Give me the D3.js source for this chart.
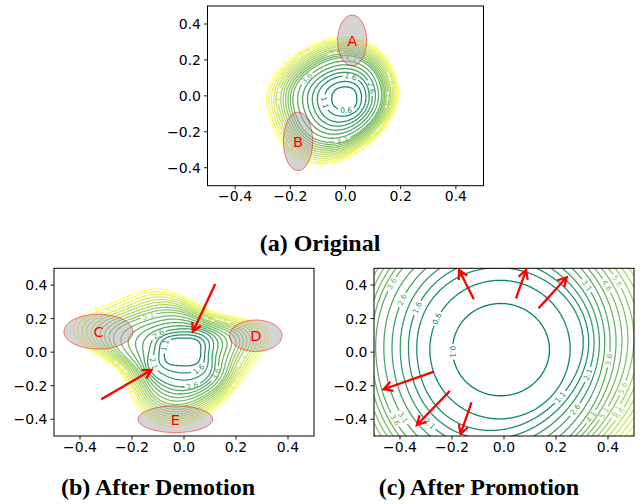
<!DOCTYPE html>
<html>
<head>
<meta charset="utf-8">
<script src="https://cdn.jsdelivr.net/npm/d3@7"></script>
<style>
  body { margin: 0; background: #fff; }
  svg { display: block; }
</style>
</head>
<body>
<svg id="fig" width="642" height="504"></svg>
<script>
// ---- shared contour levels and axis ticks ----
const levels = [0.1, 0.6, 1.1, 1.6, 2.1, 2.6, 3.1, 3.6, 4.1, 4.6, 5.1, 5.6, 6.1, 6.6, 7.1, 7.6, 8.1, 8.6, 9.1, 9.6];
const tickValues = [-0.4, -0.2, 0.0, 0.2, 0.4];
const tickLabels = ["\u22120.4", "\u22120.2", "0.0", "0.2", "0.4"];

// ---- (a) Original: radius of a few contour levels around the minimum, every 30 degrees ----
const origCenter = [0.0, -0.01];
const origMin = 0.3;
const origAnchorLevels = [0.6, 1.6, 4.1, 9.6];
const origR06 = [0.041, 0.046, 0.055, 0.061, 0.058, 0.053, 0.050, 0.056, 0.066, 0.073, 0.062, 0.048];
const origR16 = [0.074, 0.083, 0.102, 0.123, 0.111, 0.105, 0.102, 0.111, 0.135, 0.131, 0.101, 0.081];
const origR41 = [0.130, 0.147, 0.184, 0.231, 0.203, 0.195, 0.191, 0.205, 0.254, 0.230, 0.169, 0.138];
const origR96 = [0.190, 0.215, 0.270, 0.345, 0.300, 0.290, 0.285, 0.305, 0.380, 0.335, 0.240, 0.198];
const origLabels = [[0.6, 0.0, -0.079], [1.1, -0.068, -0.033], [1.6, 0.02, 0.11], [2.6, 0.08, 0.04],
  [3.6, -0.14, 0.1], [4.1, 0.022, 0.237], [4.1, -0.014, -0.237], [7.1, -0.245, 0.0], [9.6, -0.205, 0.19],
  [8.6, -0.14, 0.23], [7.6, 0.16, 0.09], [6.1, 0.15, -0.02], [8.1, 0.12, -0.2], [9.1, 0.05, -0.3],
  [8.6, -0.2, -0.27], [5.6, -0.04, 0.27]];
const origRegions = [["A", 0.024, 0.308, 0.0525, 0.142], ["B", -0.172, -0.253, 0.053, 0.163]];

// ---- (b) After Demotion: radii every 15 degrees ----
const demCenter = [0.0, 0.0];
const demMin = 0.8;
const demAnchorLevels = [1.1, 2.6, 5.1, 9.6];
const demR11 = [0.066, 0.068, 0.075, 0.085, 0.088, 0.087, 0.086, 0.087, 0.090, 0.092, 0.085, 0.078,
                0.076, 0.078, 0.085, 0.092, 0.088, 0.084, 0.082, 0.084, 0.085, 0.080, 0.072, 0.067];
const demR26 = [0.110, 0.118, 0.128, 0.140, 0.140, 0.140, 0.140, 0.140, 0.142, 0.145, 0.140, 0.135,
                0.135, 0.145, 0.160, 0.175, 0.190, 0.200, 0.210, 0.200, 0.175, 0.150, 0.125, 0.112];
const demR51 = [0.185, 0.215, 0.210, 0.200, 0.195, 0.200, 0.225, 0.245, 0.255, 0.270, 0.285, 0.280,
                0.245, 0.215, 0.205, 0.225, 0.265, 0.300, 0.310, 0.280, 0.240, 0.215, 0.195, 0.185];
const demR96 = [0.290, 0.350, 0.330, 0.290, 0.270, 0.275, 0.335, 0.385, 0.398, 0.410, 0.435, 0.442,
                0.350, 0.285, 0.278, 0.300, 0.365, 0.425, 0.440, 0.375, 0.320, 0.290, 0.270, 0.280];
const demLabels = [[1.1, -0.054, 0.033], [1.6, 0.049, -0.086], [2.1, -0.125, -0.07], [2.6, -0.099, 0.103],
  [2.6, 0.036, -0.21], [3.6, 0.133, -0.136], [5.1, -0.138, 0.212], [8.6, -0.28, 0.28], [9.6, -0.344, 0.25],
  [6.6, 0.09, 0.21], [7.6, 0.15, 0.2], [8.1, -0.25, -0.1], [9.1, -0.19, -0.24], [7.1, 0.25, -0.07], [8.6, 0.2, -0.2]];
const demRegions = [["C", -0.329, 0.122, 0.133, 0.104], ["D", 0.276, 0.098, 0.101, 0.094], ["E", -0.033, -0.40, 0.144, 0.080]];
const demArrows = [[0.12, 0.406, 0.034, 0.122], [-0.318, -0.281, -0.125, -0.106]];

// ---- (c) After Promotion: radii every 30 degrees ----
const promCenter = [-0.015, 0.015];
const promMin = -0.3;
const promAnchorLevels = [0.1, 0.6, 1.1, 3.6, 7.1];
const promR01 = [0.190, 0.204, 0.244, 0.275, 0.240, 0.197, 0.183, 0.197, 0.240, 0.275, 0.244, 0.204];
const promR06 = [0.270, 0.292, 0.358, 0.415, 0.358, 0.292, 0.271, 0.292, 0.358, 0.415, 0.355, 0.290];
const promR11 = [0.320, 0.350, 0.425, 0.495, 0.430, 0.350, 0.322, 0.350, 0.430, 0.495, 0.385, 0.330];
const promR36 = [0.420, 0.470, 0.590, 0.714, 0.660, 0.525, 0.475, 0.525, 0.660, 0.714, 0.575, 0.450];
const promR71 = [0.570, 0.650, 0.770, 0.886, 0.850, 0.660, 0.591, 0.660, 0.850, 0.886, 0.715, 0.600];
const promLabels = [[0.1, -0.2, 0.0], [0.6, -0.279, 0.224], [1.6, -0.356, 0.283], [2.6, -0.421, 0.333],
  [3.6, -0.466, 0.432], [4.1, -0.49, 0.472], [3.6, -0.466, -0.45], [3.1, -0.42, -0.42], [2.1, -0.28, -0.42],
  [1.1, 0.21, -0.26], [2.1, 0.325, -0.135], [2.6, 0.274, -0.34], [3.6, 0.40, -0.045], [4.1, 0.38, -0.43],
  [5.1, 0.43, -0.41], [5.6, 0.467, -0.22], [6.1, 0.44, -0.36], [6.6, 0.47, -0.39], [7.1, 0.49, -0.47],
  [3.1, 0.32, 0.40], [4.6, 0.42, 0.42], [5.6, 0.455, 0.44]];
const promArrows = [[-0.116, 0.315, -0.173, 0.49], [0.046, 0.32, 0.085, 0.49], [0.133, 0.262, 0.241, 0.447],
  [-0.269, -0.116, -0.463, -0.221], [-0.208, -0.231, -0.335, -0.434], [-0.125, -0.3, -0.167, -0.488]];

// ---------------------------------------------------------------
const svg = d3.select("#fig");
const defs = svg.append("defs");

// matplotlib "summer" colormap over the level range
const colorOf = d3.scaleLinear()
  .domain([levels[0], levels[levels.length - 1]])
  .range(["#008066", "#ffff66"])
  .interpolate(d3.interpolateRgb);

// smooth periodic radius curve: low-order Fourier series fitted to 1/r^2
// (an ellipse is exactly a constant plus a second harmonic in this form)
function radiusCurve(R, harmonics) {
  const n = R.length;
  const u = R.map(r => 1 / (r * r));
  const a = [], b = [];
  for (let m = 0; m <= harmonics; m++) {
    let sa = 0, sb = 0;
    for (let k = 0; k < n; k++) {
      const t = 2 * Math.PI * k / n;
      sa += u[k] * Math.cos(m * t);
      sb += u[k] * Math.sin(m * t);
    }
    a.push((m === 0 ? 1 : 2) * sa / n);
    b.push((m === 0 ? 0 : 2) * sb / n);
  }
  return th => {
    let v = a[0];
    for (let m = 1; m <= harmonics; m++) v += a[m] * Math.cos(m * th) + b[m] * Math.sin(m * th);
    return 1 / Math.sqrt(Math.max(v, 1e-6));
  };
}

// surface value: piecewise linear in radius between the measured level rings
function surface(center, fmin, anchorLevels, tables, harmonics) {
  const curves = tables.map(R => radiusCurve(R, harmonics));
  return (x, y) => {
    const dx = x - center[0], dy = y - center[1];
    const r = Math.hypot(dx, dy);
    const th = Math.atan2(dy, dx);
    const Rs = curves.map(c => c(th));
    const L = anchorLevels;
    if (r <= Rs[0]) return fmin + (L[0] - fmin) * (r / Rs[0]) ** 2;
    for (let k = 0; k < Rs.length - 1; k++) {
      if (r <= Rs[k + 1]) return L[k] + (L[k + 1] - L[k]) * (r - Rs[k]) / (Rs[k + 1] - Rs[k]);
    }
    const k = Rs.length - 2;
    return L[k + 1] + (L[k + 1] - L[k]) * (r - Rs[k + 1]) / (Rs[k + 1] - Rs[k]);
  };
}

const N = 280, G0 = -0.54, G1 = 0.54, STEP = (G1 - G0) / (N - 1);
const LABEL_FS = 7.5;

function drawPanel(id, box, f, labels, regions, arrows, title) {
  const xs = d3.scaleLinear().domain([-0.5, 0.5]).range([box.left, box.right]);
  const ys = d3.scaleLinear().domain([-0.5, 0.5]).range([box.bottom, box.top]);

  // sample the surface
  const values = new Float64Array(N * N);
  for (let j = 0; j < N; j++)
    for (let i = 0; i < N; i++)
      values[j * N + i] = f(G0 + i * STEP, G0 + j * STEP);

  const contours = d3.contours().size([N, N]).thresholds(levels)(values);
  const toPx = (cx, cy) => [xs(G0 + (cx - 0.5) * STEP), ys(G0 + (cy - 0.5) * STEP)];
  const proj = d3.geoTransform({ point(px, py) { const p = toPx(px, py); this.stream.point(p[0], p[1]); } });
  const path = d3.geoPath(proj);

  defs.append("clipPath").attr("id", "clip-" + id)
    .append("rect").attr("x", box.left).attr("y", box.top)
    .attr("width", box.right - box.left).attr("height", box.bottom - box.top);

  // inline label placement on contour lines
  const placed = [];
  labels.forEach(([lev, ax, ay]) => {
    const c = contours.find(c => Math.abs(c.value - lev) < 1e-6);
    if (!c) return;
    const tx = xs(ax), ty = ys(ay);
    let best = null;
    c.coordinates.forEach(poly => poly.forEach(ring => {
      const pts = ring.map(p => toPx(p[0], p[1]));
      pts.forEach((p, k) => {
        const d = Math.hypot(p[0] - tx, p[1] - ty);
        if (!best || d < best.d) best = { d, pts, k };
      });
    }));
    if (!best || best.d > 20) return;
    const { pts, k } = best;
    const n = pts.length;
    const a = pts[(k - 3 + n - 1) % (n - 1)], b = pts[(k + 3) % (n - 1)];
    let ang = Math.atan2(b[1] - a[1], b[0] - a[0]) * 180 / Math.PI;
    if (ang > 90) ang -= 180;
    if (ang < -90) ang += 180;
    const p = pts[k];
    if (p[0] < box.left + 2 || p[0] > box.right - 2 || p[1] < box.top + 2 || p[1] > box.bottom - 2) return;
    placed.push({ lev, x: p[0], y: p[1], ang, text: lev.toFixed(1) });
  });

  const g = svg.append("g").attr("clip-path", `url(#clip-${id})`);
  contours.forEach((c, ci) => {
    if (!c.coordinates.length) return;
    const mine = placed.filter(l => Math.abs(l.lev - c.value) < 1e-6);
    const p = g.append("path").attr("d", path(c))
      .attr("fill", "none").attr("stroke", colorOf(c.value))
      .attr("stroke-width", 1.3).attr("stroke-linejoin", "round");
    if (mine.length) {
      const m = defs.append("mask").attr("id", `mask-${id}-${ci}`)
        .attr("maskUnits", "userSpaceOnUse").attr("x", 0).attr("y", 0).attr("width", 642).attr("height", 504);
      m.append("rect").attr("width", 642).attr("height", 504).attr("fill", "#fff");
      mine.forEach(l => {
        const w = l.text.length * 0.53 * LABEL_FS + 4;
        m.append("rect").attr("x", -w / 2).attr("y", -LABEL_FS / 2 - 0.5).attr("width", w).attr("height", LABEL_FS + 1)
          .attr("transform", `translate(${l.x},${l.y}) rotate(${l.ang})`).attr("fill", "#000");
      });
      p.attr("mask", `url(#mask-${id}-${ci})`);
    }
  });
  g.selectAll("text.clabel").data(placed).join("text")
    .attr("class", "clabel")
    .attr("transform", d => `translate(${d.x},${d.y}) rotate(${d.ang})`)
    .attr("text-anchor", "middle").attr("dominant-baseline", "central")
    .attr("font-family", "DejaVu Sans").attr("font-size", LABEL_FS)
    .attr("fill", d => colorOf(d.lev)).text(d => d.text);

  // shaded regions
  regions.forEach(([name, cx, cy, rx, ry]) => {
    svg.append("ellipse")
      .attr("cx", xs(cx)).attr("cy", ys(cy))
      .attr("rx", xs(rx) - xs(0)).attr("ry", ys(0) - ys(ry))
      .attr("fill", "rgb(169,169,169)").attr("fill-opacity", 0.5)
      .attr("stroke", "rgb(255,0,0)").attr("stroke-opacity", 0.5).attr("stroke-width", 1);
    svg.append("text").attr("x", xs(cx)).attr("y", ys(cy) + 5.3)
      .attr("text-anchor", "middle").attr("font-family", "DejaVu Sans").attr("font-size", 14.5)
      .attr("fill", "#ff0000").text(name);
  });

  // axes frame and ticks
  const ax = svg.append("g");
  ax.append("rect").attr("x", box.left).attr("y", box.top)
    .attr("width", box.right - box.left).attr("height", box.bottom - box.top)
    .attr("fill", "none").attr("stroke", "#000").attr("stroke-width", 1);
  tickValues.forEach((v, i) => {
    const x = xs(v), y = ys(v);
    ax.append("line").attr("x1", x).attr("x2", x).attr("y1", box.bottom).attr("y2", box.bottom + 3.5)
      .attr("stroke", "#000").attr("stroke-width", 0.9);
    ax.append("text").attr("x", x).attr("y", box.bottom + 15.5).attr("text-anchor", "middle")
      .attr("font-family", "DejaVu Sans").attr("font-size", 14).attr("fill", "#000").text(tickLabels[i]);
    ax.append("line").attr("x1", box.left - 3.5).attr("x2", box.left).attr("y1", y).attr("y2", y)
      .attr("stroke", "#000").attr("stroke-width", 0.9);
    ax.append("text").attr("x", box.left - 6.5).attr("y", y + 5).attr("text-anchor", "end")
      .attr("font-family", "DejaVu Sans").attr("font-size", 14).attr("fill", "#000").text(tickLabels[i]);
  });

  // arrows
  arrows.forEach(([x0, y0, x1, y1]) => {
    const p0 = [xs(x0), ys(y0)], p1 = [xs(x1), ys(y1)];
    const a = Math.atan2(p1[1] - p0[1], p1[0] - p0[0]);
    const hl = 10, ha = 0.5;
    const w1 = [p1[0] - hl * Math.cos(a - ha), p1[1] - hl * Math.sin(a - ha)];
    const w2 = [p1[0] - hl * Math.cos(a + ha), p1[1] - hl * Math.sin(a + ha)];
    svg.append("path")
      .attr("d", `M${p0[0]},${p0[1]}L${p1[0]},${p1[1]}M${w1[0]},${w1[1]}L${p1[0]},${p1[1]}L${w2[0]},${w2[1]}`)
      .attr("fill", "none").attr("stroke", "#ff0000").attr("stroke-width", 2.3)
      .attr("stroke-linecap", "butt").attr("stroke-linejoin", "miter");
  });

  // caption
  svg.append("text").attr("x", title.x).attr("y", title.y).attr("text-anchor", "middle")
    .attr("font-family", "Liberation Serif").attr("font-weight", "bold").attr("font-size", 24)
    .attr("fill", "#000").text(title.text);
}

drawPanel("a", { left: 207.5, right: 483.5, top: 6, bottom: 185.7 },
  surface(origCenter, origMin, origAnchorLevels, [origR06, origR16, origR41, origR96], 4),
  origLabels, origRegions, [], { text: "(a) Original", x: 320, y: 251 });

drawPanel("b", { left: 54, right: 314, top: 268.3, bottom: 436 },
  surface(demCenter, demMin, demAnchorLevels, [demR11, demR26, demR51, demR96], 6),
  demLabels, demRegions, demArrows, { text: "(b) After Demotion", x: 158, y: 495 });

drawPanel("c", { left: 374, right: 634, top: 268.3, bottom: 436 },
  surface(promCenter, promMin, promAnchorLevels, [promR01, promR06, promR11, promR36, promR71], 3),
  promLabels, [], promArrows, { text: "(c) After Promotion", x: 479, y: 495 });
</script>
</body>
</html>
